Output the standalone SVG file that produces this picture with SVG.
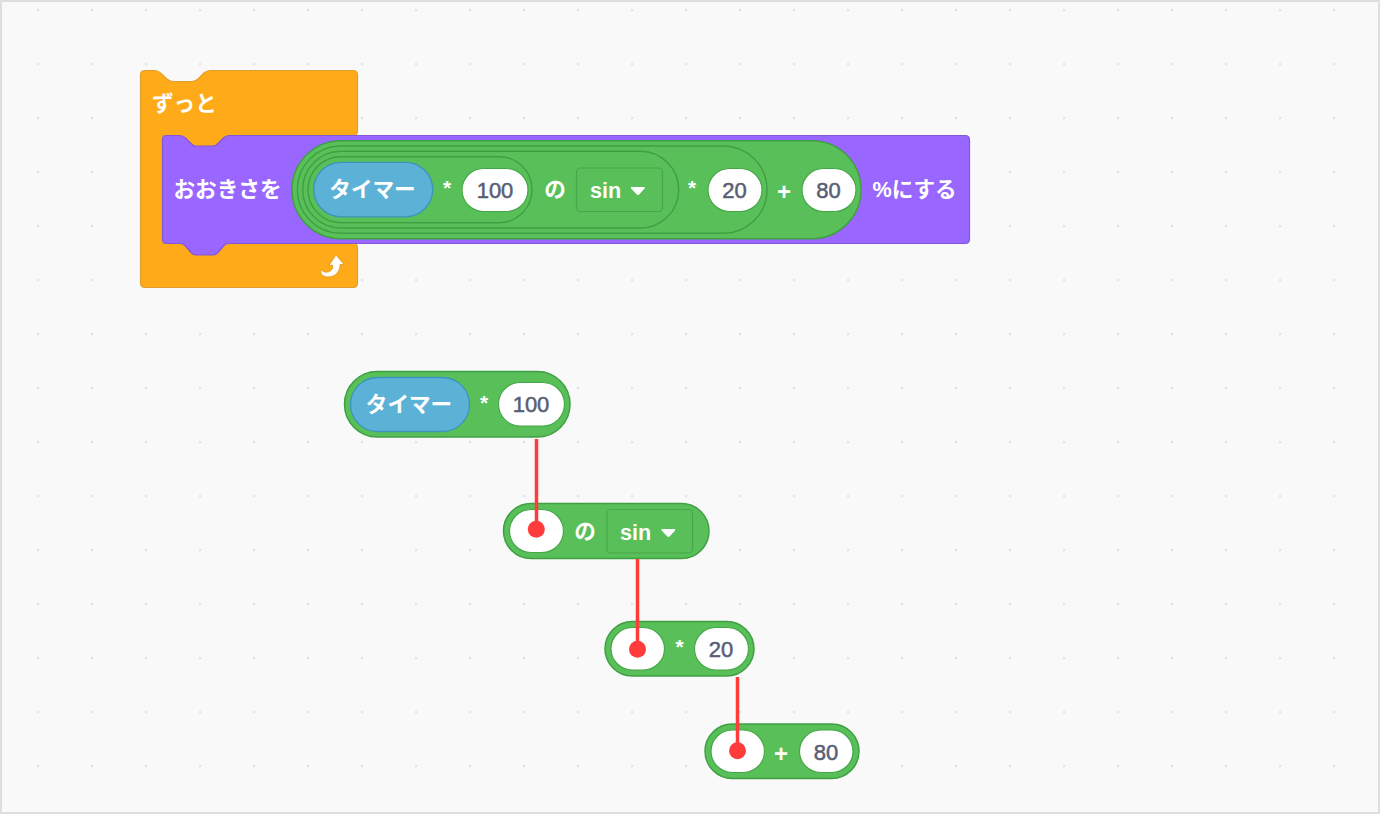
<svg xmlns="http://www.w3.org/2000/svg" width="1380" height="814" viewBox="0 0 1380 814">
<style>
text{font-family:"Liberation Sans","Noto Sans CJK JP",sans-serif;font-weight:700;font-size:21.600px;fill:#fff;text-anchor:middle}
.num{fill:#575e75;font-weight:400;font-size:22px;stroke:#575e75;stroke-width:.5px}
.start{text-anchor:start}
.sym{font-size:21px}
.plus{font-size:24px}
.g{fill:#59c059;stroke:#3f9f43;stroke-width:1.500}
.gi{fill:#59c059;stroke:#3f9f43;stroke-width:1.400}
.in{fill:#fff;stroke:#46a849;stroke-width:1.200}
.blue{fill:#5cb1d6;stroke:#3a94bd;stroke-width:1.300}
.dd{fill:#59c059;stroke:#46a849;stroke-width:1.200}
.tri{fill:#fff}
.wire{stroke:#ff3b3b;stroke-width:3.500;fill:none}
.dot{fill:#ff3b3b}
</style>
<defs>
<pattern id="grid" x="37" y="9" width="54" height="54" patternUnits="userSpaceOnUse">
<path d="M.5 -1V2M-1 .5H2" transform="translate(0.5 0.5)" stroke="#dcdcdc" stroke-width="1" fill="none"/>
</pattern>
<path id="tr" d="M.8 0H12.800Q14.600 0 13.500 1.500L8.400 7.300Q7 8.600 5.600 7.300L.1 1.500Q-1 0 .8 0Z"/>
</defs>
<rect width="1380" height="814" fill="#f9f9f9"/>
<rect width="1380" height="814" fill="url(#grid)"/>
<rect x="1" y="1" width="1378" height="812" fill="none" stroke="#dedede" stroke-width="2"/>

<g id="forever">
<path d="M145 70.500H155Q158 70.500 160.500 73L167 79Q170 81.500 173 81.500H192Q195 81.500 198 79L204 73Q206.500 70.500 210 70.500H353Q357.500 70.500 357.500 75V131Q357.500 135.500 353 135.500H229L218 147H190L180 135.500H162.500V243.500H353Q357.500 243.500 357.500 248V283Q357.500 287.500 353 287.500H145Q140.500 287.500 140.500 283V75Q140.500 70.500 145 70.500Z" fill="#ffab19" stroke="#e0a030" stroke-width="1.200"/>
<text class="start" x="152" y="111">ずっと</text>
<path d="M320.500 269.500Q326 274.500 331 270.500Q333.500 268 332.500 265L329 265.500L336 255L344 264.500L340 264.500Q340 271 335 275Q327 279 321.500 274.500Z" fill="#fff" stroke="#cf8b17" stroke-width=".6"/>
</g>

<g id="set-size">
<path d="M167 135.500H180Q183 135.500 185.500 138L190.500 143Q193 146 196 146H213Q216 146 218.500 143L223.500 138Q226 135.500 229 135.500H965Q969.500 135.500 969.500 140V239Q969.500 243.500 965 243.500H229Q226 243.500 223.500 246L218.500 252Q216 255 213 255H196Q193 255 190.500 252L185.500 246Q183 243.500 180 243.500H167Q162.500 243.500 162.500 239V140Q162.500 135.500 167 135.500Z" fill="#9966ff" stroke="#8258d8" stroke-width="1.200"/>
<text class="start" x="173.500" y="197">おおきさを</text>
<text class="start" x="872.500" y="197">%にする</text>
</g>

<g id="nested-expression">
<rect class="g" x="292" y="140.700" width="569" height="98" rx="49"/>
<rect class="gi" x="297.300" y="146" width="469.700" height="87.300" rx="43.650"/>
<rect class="gi" x="302.700" y="151.300" width="376" height="76.700" rx="38.350"/>
<rect class="gi" x="308" y="156.700" width="224" height="66" rx="33"/>
<rect class="blue" x="313.700" y="162.300" width="119" height="54.500" rx="27.250"/>
<text x="372.500" y="197">タイマー</text>
<text class="sym" x="447" y="195">*</text>
<rect class="in" x="462" y="168.500" width="66" height="43" rx="21.500"/>
<text class="num" x="495" y="198">100</text>
<text x="555" y="197">の</text>
<rect class="dd" x="576.500" y="168" width="86" height="43.500" rx="4"/>
<text x="605.500" y="198">sin</text>
<use href="#tr" class="tri" x="631" y="187"/>
<text class="sym" x="692" y="195">*</text>
<rect class="in" x="708" y="168.500" width="54" height="43" rx="21.500"/>
<text class="num" x="734.500" y="198">20</text>
<text class="plus" x="784" y="200">+</text>
<rect class="in" x="802" y="168.500" width="54" height="43" rx="21.500"/>
<text class="num" x="828.500" y="198">80</text>
</g>

<g id="timer-times-100">
<rect class="g" x="344.500" y="371.500" width="225.500" height="65.500" rx="32.750"/>
<rect class="blue" x="350.500" y="377.500" width="119" height="54" rx="27"/>
<text x="409" y="412">タイマー</text>
<text class="sym" x="484" y="410">*</text>
<rect class="in" x="498.500" y="382.500" width="66" height="43.500" rx="21.750"/>
<text class="num" x="531" y="412">100</text>
</g>

<g id="of-sin">
<rect class="g" x="503.500" y="503.500" width="205.500" height="55" rx="27.500"/>
<rect class="in" x="509.500" y="509.500" width="54" height="43" rx="21.500"/>
<text x="585" y="539">の</text>
<rect class="dd" x="607" y="509.500" width="85.500" height="43.500" rx="4"/>
<text x="635.500" y="540">sin</text>
<use href="#tr" class="tri" x="661.500" y="529"/>
</g>

<g id="times-20">
<rect class="g" x="605" y="621.500" width="149" height="54.500" rx="27.250"/>
<rect class="in" x="611" y="627.500" width="53.500" height="42.500" rx="21.250"/>
<text class="sym" x="679.500" y="654">*</text>
<rect class="in" x="694.500" y="627.500" width="54" height="42.500" rx="21.250"/>
<text class="num" x="721" y="657">20</text>
</g>

<g id="plus-80">
<rect class="g" x="705" y="724" width="154" height="54.500" rx="27.250"/>
<rect class="in" x="711" y="730" width="53.500" height="42.500" rx="21.250"/>
<text class="plus" x="781" y="762">+</text>
<rect class="in" x="799.500" y="730" width="53.500" height="42.500" rx="21.250"/>
<text class="num" x="826" y="760">80</text>
</g>

<g id="connectors">
<path class="wire" d="M536.500 439V529"/>
<circle class="dot" cx="536.300" cy="529.300" r="8.500"/>
<path class="wire" d="M637.500 559V649"/>
<circle class="dot" cx="637.500" cy="649.300" r="8.500"/>
<path class="wire" d="M737.500 677V751"/>
<circle class="dot" cx="737.500" cy="750.700" r="8.500"/>
</g>
</svg>
